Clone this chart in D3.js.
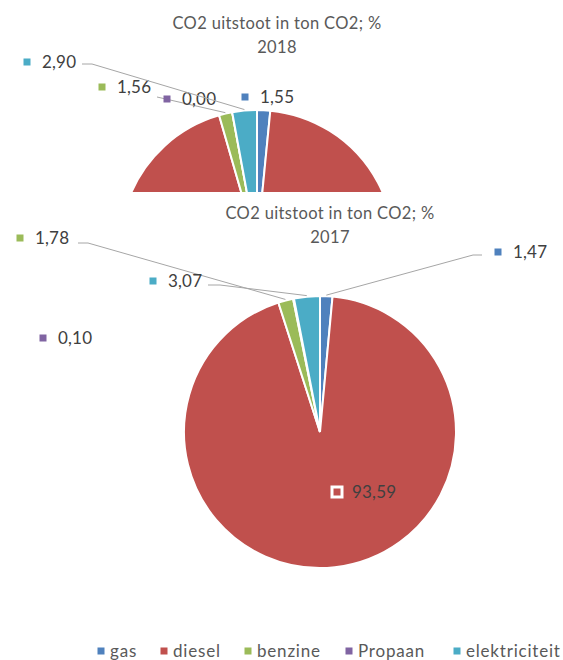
<!DOCTYPE html>
<html>
<head>
<meta charset="utf-8">
<script src="https://cdn.jsdelivr.net/npm/d3@7/dist/d3.min.js"></script>
<style>
  body { margin: 0; background: #fff; }
  svg { display: block; font-family: Lato, "Open Sans", sans-serif; }
  .title { fill: #595959; font-size: 16.5px; letter-spacing: 0.35px; }
  .lbl { fill: #404040; font-size: 17px; letter-spacing: 0.2px; }
  .legend text { fill: #595959; font-size: 17px; letter-spacing: 0.8px; }
  .leader { stroke: #a6a6a6; stroke-width: 1; fill: none; }
</style>
</head>
<body>
<div id="chart"></div>
<script>
// CO2 uitstoot per brandstof, % van totaal
const categories = ["gas", "diesel", "benzine", "Propaan", "elektriciteit"];
const colors = ["#4f81bd", "#c0504d", "#9bbb59", "#8064a2", "#4bacc6"];
const values2018 = [1.55, 93.99, 1.56, 0.00, 2.90];
const values2017 = [1.47, 93.59, 1.78, 0.10, 3.07];
const titleText = "CO2 uitstoot in ton CO2; %";

const width = 563, height = 660;

// chart layout (pie centre, radius, title and label placement)
const charts = [
  {
    year: "2018", values: values2018,
    cx: 257, cy: 247, r: 137, titleX: 277, titleY: 29,
    clipY: 192,
    labels: [
      { x: 245, y: 97 },                     // gas
      null,                                  // diesel (hidden)
      { x: 102, y: 87, leader: [157, 97] },  // benzine
      { x: 167, y: 99 },                     // Propaan
      { x: 27, y: 62, leader: [82, 64, 92] } // elektriciteit
    ]
  },
  {
    year: "2017", values: values2017,
    cx: 320, cy: 432, r: 136, titleX: 330, titleY: 219,
    labels: [
      { x: 498, y: 252, leader: [482, 255, 473] },
      { x: 337, y: 492, inside: true },
      { x: 20, y: 238, leader: [78, 243, 88] },
      { x: 43, y: 338 },
      { x: 153, y: 281, leader: [208, 285, 220] }
    ]
  }
];

const fmt = v => v.toFixed(2).replace(".", ",");

const svg = d3.select("#chart").append("svg")
  .attr("width", width)
  .attr("height", height);

svg.append("defs").append("clipPath")
  .attr("id", "clipTop")
  .append("rect")
  .attr("x", 0).attr("y", 0)
  .attr("width", width).attr("height", charts[0].clipY);

const pie = d3.pie().sort(null).value(d => d);

charts.forEach((c, ci) => {
  const g = svg.append("g");
  if (c.clipY) g.attr("clip-path", "url(#clipTop)");
  if (ci > 0) {
    // second chart sits on top of the first one
    g.append("rect")
      .attr("x", 0).attr("y", 193)
      .attr("width", width).attr("height", height - 193)
      .attr("fill", "#fff");
  }

  const arcs = pie(c.values);
  const arc = d3.arc().innerRadius(0).outerRadius(c.r);
  const edge = d3.arc().innerRadius(c.r + 1).outerRadius(c.r + 1);

  const pg = g.append("g").attr("transform", `translate(${c.cx},${c.cy})`);
  pg.selectAll("path")
    .data(arcs)
    .join("path")
    .attr("d", arc)
    .attr("fill", (d, i) => colors[i])
    .attr("stroke", "#fff")
    .attr("stroke-width", 2);

  // titles
  g.append("text").attr("class", "title")
    .attr("x", c.titleX).attr("y", c.titleY)
    .attr("text-anchor", "middle").text(titleText);
  g.append("text").attr("class", "title")
    .attr("x", c.titleX).attr("y", c.titleY + 24)
    .attr("text-anchor", "middle").text(c.year);

  // data labels
  arcs.forEach((a, i) => {
    const L = c.labels[i];
    if (!L) return;
    if (L.leader) {
      const p = edge.centroid(a);
      const end = [c.cx + p[0], c.cy + p[1]];
      const pts = [[L.leader[0], L.leader[1]]];
      if (L.leader[2] !== undefined) pts.push([L.leader[2], L.leader[1]]);
      pts.push(end);
      g.append("path").attr("class", "leader")
        .attr("d", d3.line()(pts));
    }
    const s = L.inside ? 10 : 7;
    g.append("rect")
      .attr("x", L.x - s / 2).attr("y", L.y - s / 2)
      .attr("width", s).attr("height", s)
      .attr("fill", colors[i])
      .attr("stroke", L.inside ? "#fff" : "none")
      .attr("stroke-width", L.inside ? 3 : 0);
    g.append("text").attr("class", "lbl")
      .attr("x", L.x + 15)
      .attr("y", L.y)
      .attr("dy", "0.35em")
      .text(fmt(c.values[i]));
  });
});

// legend
const legendX = [101, 164, 248, 349, 457];
const legend = svg.append("g").attr("class", "legend");
categories.forEach((cat, i) => {
  legend.append("rect")
    .attr("x", legendX[i] - 3.5).attr("y", 651 - 3.5)
    .attr("width", 7).attr("height", 7)
    .attr("fill", colors[i]);
  legend.append("text")
    .attr("x", legendX[i] + 9).attr("y", 651)
    .attr("dy", "0.35em")
    .text(cat);
});
</script>
</body>
</html>
